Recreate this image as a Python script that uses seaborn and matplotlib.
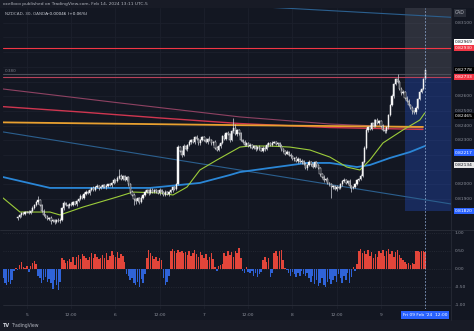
import matplotlib
matplotlib.use("Agg")
import matplotlib.pyplot as plt
from matplotlib.patches import Rectangle
import seaborn as sns
import numpy as np
import pandas as pd

W, H = 474, 331

# ---------------- NZDCAD 30m candles (bar 0 = Mon 5 Feb 00:00) ----------------
first_bar = -5
first_open = 0.81770
closes = [
    0.81778, 0.81790, 0.81805, 0.81800, 0.81812,
    0.81815, 0.81808, 0.81822, 0.81840, 0.81862, 0.81880,
    0.81894, 0.81860, 0.81820, 0.81795,
    0.81780, 0.81765, 0.81772, 0.81750, 0.81760, 0.81745, 0.81755, 0.81748, 0.81760,
    0.81840, 0.81874,
    0.81860, 0.81850, 0.81870, 0.81862, 0.81880, 0.81868, 0.81885,
    0.81900, 0.81920, 0.81910, 0.81935, 0.81950, 0.81940, 0.81962, 0.81975, 0.81965,
    0.81980, 0.81990, 0.81975, 0.81985, 0.81995, 0.81980, 0.81990, 0.82000, 0.81995,
    0.82010, 0.82030, 0.82020, 0.82045, 0.82060, 0.82040, 0.82055, 0.82030, 0.82050,
    0.82000, 0.81950, 0.81930, 0.81900, 0.81885, 0.81905, 0.81880, 0.81910, 0.81930,
    0.81950, 0.81960, 0.81940, 0.81965, 0.81950, 0.81960,
    0.81955, 0.81940, 0.81960, 0.81945, 0.81930, 0.81950, 0.81935, 0.81945, 0.81960, 0.81980, 0.81970,
    0.82000, 0.82254,
    0.82230, 0.82200, 0.82260, 0.82240, 0.82270, 0.82288,
    0.82300, 0.82290, 0.82320, 0.82310, 0.82280, 0.82300, 0.82322, 0.82305, 0.82290, 0.82310, 0.82300, 0.82280, 0.82290,
    0.82250, 0.82234, 0.82260, 0.82280,
    0.82330, 0.82310, 0.82350, 0.82340, 0.82300, 0.82360, 0.82384, 0.82340, 0.82370, 0.82350,
    0.82300, 0.82290, 0.82270, 0.82280, 0.82260,
    0.82270, 0.82250, 0.82260, 0.82240, 0.82255, 0.82245, 0.82230, 0.82250, 0.82240, 0.82265, 0.82280, 0.82270, 0.82285,
    0.82290, 0.82275, 0.82280, 0.82260, 0.82240, 0.82230, 0.82210,
    0.82220, 0.82200, 0.82190, 0.82170, 0.82180, 0.82160, 0.82175, 0.82150, 0.82160, 0.82140, 0.82110, 0.82130, 0.82150,
    0.82140, 0.82120, 0.82150, 0.82130, 0.82110,
    0.82070, 0.82050, 0.82030, 0.82040, 0.82010, 0.82000, 0.81980,
    0.81990, 0.81970, 0.81985, 0.81975, 0.82000,
    0.82020, 0.82030, 0.82010, 0.82025,
    0.81990, 0.81976, 0.81985, 0.82000,
    0.82030, 0.82040, 0.82060,
    0.82150, 0.82250, 0.82370, 0.82390,
    0.82380, 0.82420, 0.82400, 0.82440, 0.82420, 0.82430, 0.82400,
    0.82370, 0.82360, 0.82390,
    0.82470, 0.82540, 0.82600, 0.82680, 0.82720,
    0.82700,
    0.82650, 0.82620, 0.82630, 0.82590, 0.82570, 0.82540, 0.82520,
    0.82500, 0.82490, 0.82520,
    0.82580, 0.82630, 0.82650,
    0.82720, 0.82778,
]

# wick lengths beyond the body, in points (0.00001), ten bars per row from bar -5
hi_wick = [
    8, 12, 6, 10, 9, 7, 14, 5, 11, 8,
    9, 25, 6, 10, 12, 7, 9, 5, 11, 8,
    6, 10, 14, 9, 7, 12, 8, 10, 6, 13,
    9, 7, 11, 8, 12, 6, 10, 9, 14, 7,
    8, 11, 6, 10, 9, 12, 7, 8, 13, 6,
    10, 9, 12, 7, 11, 45, 9, 12, 6, 10,
    8, 7, 12, 9, 6, 11, 8, 10, 7, 9,
    12, 6, 10, 8, 11, 7, 9, 13, 6, 8,
    10, 7, 12, 9, 6, 11, 8, 14, 10, 7,
    12, 9, 6, 11, 8, 10, 7, 13, 9, 6,
    10, 8, 12, 7, 20, 11, 6, 10, 8, 12,
    7, 9, 11, 6, 10, 8, 13, 65, 30, 9,
    10, 8, 7, 12, 9, 6, 11, 8, 10, 7,
    9, 12, 6, 10, 8, 15, 7, 9, 13, 6,
    8, 10, 7, 12, 9, 6, 11, 8, 14, 10,
    7, 12, 9, 6, 11, 8, 10, 7, 13, 9,
    6, 10, 8, 12, 7, 9, 11, 6, 10, 8,
    12, 7, 9, 11, 6, 10, 8, 13, 9, 7,
    10, 8, 7, 12, 9, 6, 11, 8, 10, 15,
    9, 12, 6, 25, 8, 11, 7, 9, 13, 6,
    8, 10, 7, 12, 9, 6, 30, 8, 14, 10,
    7, 12, 9, 6, 11, 8, 10, 7, 13, 9,
    6, 10,
]
lo_wick = [
    9, 7, 11, 8, 10, 6, 12, 9, 7, 10,
    8, 11, 6, 9, 12, 7, 10, 8, 20, 6,
    11, 9, 7, 10, 8, 12, 6, 9, 11, 7,
    10, 8, 12, 6, 9, 11, 7, 10, 8, 12,
    6, 9, 11, 7, 10, 8, 12, 6, 9, 11,
    7, 10, 8, 12, 6, 9, 11, 7, 10, 8,
    12, 6, 9, 40, 20, 7, 10, 8, 12, 6,
    9, 11, 7, 10, 8, 12, 6, 9, 11, 7,
    10, 8, 12, 6, 9, 11, 10, 7, 8, 12,
    6, 9, 11, 7, 10, 8, 12, 6, 9, 11,
    7, 10, 8, 12, 6, 9, 11, 7, 10, 8,
    12, 6, 9, 11, 7, 10, 8, 12, 6, 9,
    11, 7, 10, 8, 12, 6, 9, 11, 7, 10,
    8, 12, 6, 9, 11, 7, 10, 8, 12, 6,
    9, 11, 7, 10, 8, 12, 6, 9, 11, 7,
    10, 8, 12, 6, 9, 11, 7, 10, 8, 12,
    6, 9, 11, 7, 10, 8, 12, 6, 9, 11,
    75, 10, 8, 12, 6, 9, 11, 7, 10, 8,
    12, 30, 9, 11, 7, 10, 8, 12, 6, 9,
    11, 7, 10, 8, 12, 6, 9, 11, 7, 10,
    8, 12, 6, 9, 11, 7, 10, 8, 12, 6,
    9, 11, 7, 10, 20, 8, 12, 6, 9, 11,
    7, 10,
]

# ---------------- momentum histogram (from bar -13) ----------------
hist_first = -13
hist_vals = [
    -0.25, -0.40, -0.45, -0.35, -0.42, -0.30,
    -0.05, 0.02, -0.03, 0.12, 0.20, 0.05, 0.03, 0.08,
    -0.08, 0.10, 0.18, 0.24, 0.15,
    -0.18, -0.25, -0.38, -0.30, -0.22, -0.35, -0.28,
    -0.40, -0.55, -0.30, -0.45, -0.60, -0.35,
    0.30, 0.25, 0.18, 0.22, 0.28, 0.20, 0.33, 0.12,
    0.35, 0.40, 0.28, 0.43, 0.38, 0.30, 0.25, 0.33,
    0.45, 0.30, 0.42, 0.35, 0.28,
    0.32, 0.40, 0.30, 0.45, 0.25, 0.38, 0.52,
    0.40, 0.35, 0.48, 0.30, 0.42, 0.38, 0.20,
    -0.13, -0.20, -0.30, -0.25, -0.38, -0.45, -0.35, -0.50, -0.28,
    -0.40, -0.15,
    0.30, 0.55, 0.45, 0.38,
    0.28, 0.35, 0.22, 0.30, 0.25,
    -0.25, -0.45, -0.35, -0.20,
    0.50, 0.56, 0.52, 0.45, 0.55, 0.48, 0.50, 0.44, 0.47,
    0.40, 0.52, 0.38, 0.45, 0.55, 0.42, 0.35, 0.48, 0.40,
    0.30, 0.42, 0.25, 0.35, 0.45, 0.28,
    0.05, -0.05, 0.08, 0.12, 0.15,
    0.45, 0.38, 0.50, 0.40, 0.48, 0.35, 0.52, 0.45, 0.60, 0.30,
    -0.05, -0.10, 0.05, -0.08,
    -0.12, -0.05, -0.18, -0.10, -0.22, -0.15, -0.08,
    0.25, 0.33, 0.20, 0.30,
    -0.22, -0.12,
    0.45, 0.52, 0.38, 0.50, 0.55, 0.25,
    0.02, -0.03,
    -0.12, -0.20, -0.08, -0.15, -0.22, -0.10, -0.18, -0.05, -0.14, -0.20, -0.10,
    -0.25, -0.35, -0.20, -0.42, -0.30, -0.48, -0.38, -0.25, -0.45, -0.50, -0.35, -0.28, -0.42, -0.30,
    -0.20, -0.35, -0.15, -0.25, -0.40, -0.18, -0.30, -0.12, -0.38, -0.22,
    0.05, -0.06, 0.15,
    0.52, 0.56, 0.45, 0.50, 0.43,
    0.55, 0.38, 0.48, 0.30, 0.42, 0.35, 0.50,
    0.45, 0.55, 0.38, 0.52, 0.56, 0.42, 0.50, 0.35, 0.48, 0.55, 0.40,
    0.32, 0.25, 0.20, 0.15, 0.18, 0.12, 0.16, 0.14,
    0.50, 0.52, 0.48, 0.52, 0.50, 0.47,
]

# ---------------- overlay lines: (bar index, price) knots ----------------
green_ma_x = [-13.0, -3.8, 12.5, 17.9, 30.4, 48.8, 57.5, 72.1, 79.2, 86.8, 93.8, 103.0,
              115.5, 120.9, 131.8, 142.6, 153.5, 164.3, 173.5, 180.6, 186.0, 193.1,
              203.9, 213.1, 215.8]
green_ma_y = [0.81908, 0.81812, 0.81812, 0.81792, 0.81846, 0.81914, 0.81948, 0.81942,
              0.81928, 0.81982, 0.82098, 0.82166, 0.82254, 0.82261, 0.82261, 0.82254,
              0.82234, 0.82186, 0.82118, 0.82098, 0.82166, 0.82282, 0.82370, 0.82438,
              0.82486]
blue_ma_x = [-13.0, 12.5, 66.7, 93.8, 110.1, 115.5, 131.8, 151.8, 164.3, 179.0, 186.0,
             196.9, 207.7, 215.8]
blue_ma_y = [0.82050, 0.81976, 0.81976, 0.82010, 0.82064, 0.82084, 0.82112, 0.82146,
             0.82146, 0.82118, 0.82132, 0.82180, 0.82220, 0.82261]
red_ma_x = [-13.0, 28.7, 72.1, 115.5, 164.3, 214.8]
red_ma_y = [0.82529, 0.82493, 0.82452, 0.82414, 0.82387, 0.82374]
orange_ma_x = [-13.0, 115.5, 214.8]
orange_ma_y = [0.82422, 0.82403, 0.82391]
pink_ma_x = [-13.0, 50.4, 115.5, 164.3, 214.8]
pink_ma_y = [0.82649, 0.82554, 0.82459, 0.82411, 0.82384]
trend_low_x = [-13.0, 230.0]
trend_low_y = [0.82357, 0.81867]
trend_high_x = [130.0, 230.0]
trend_high_y = [0.83206, 0.83137]

h_levels = [0.82930, 0.82753, 0.82733]
h_colors = ["#f23645", "#4a4e59", "#b8415a"]

# position tool zone (price bounds)
zone_x = [205.0, 230.0]
zone_top = 0.82733
zone_bottom = 0.81820

price_ticks = [0.83100, 0.83000, 0.82900, 0.82800, 0.82700, 0.82600, 0.82500,
               0.82400, 0.82300, 0.82200, 0.82100, 0.82000, 0.81900]
price_tags = [(0.82969, "#ffffff", "#131722"), (0.82930, "#f23645", "#ffffff"),
              (0.82778, "#000000", "#ffffff"), (0.82733, "#f23645", "#ffffff"),
              (0.82465, "#000000", "#ffffff"), (0.82217, "#2962ff", "#ffffff"),
              (0.82134, "#e6e6e6", "#131722"), (0.81820, "#2962ff", "#ffffff")]
osc_ticks = [1.0, 0.5, 0.0, -0.5, -1.0]
day_ticks = [0, 24, 48, 72, 96, 120, 144, 168, 192]
day_labels = ["5", "12:00", "6", "12:00", "7", "12:00", "8", "12:00", "9"]
cursor_bar = 216
cursor_label = "Fri 09 Feb '24  12:00"

# ---------------- style ----------------
BG = "#131722"
FRAME = "#181b26"
GRID = "#1c202c"
TXT = "#b2b5be"
AX_TXT = "#8a8e99"

sns.set_theme(style="dark")
plt.rcParams["font.family"] = ["DejaVu Sans"]

fig = plt.figure(figsize=(W / 100, H / 100), dpi=100, facecolor=FRAME)


def fx(px):
    return px / W


def fy(py):
    return 1 - py / H


# chart area background incl. scales
fig.add_artist(Rectangle((0, fy(320)), 1, fy(8) - fy(320), transform=fig.transFigure,
                         facecolor=BG, edgecolor="none", zorder=0))

ax = fig.add_axes([fx(3), fy(229), fx(451) - fx(3), fy(8) - fy(229)])
axo = fig.add_axes([fx(3), fy(309), fx(451) - fx(3), fy(231) - fy(309)])
for a in (ax, axo):
    a.set_facecolor(BG)
    for s in a.spines.values():
        s.set_visible(False)
    a.set_xticks([])
    a.set_yticks([])
    a.set_xlim(-13.0, 230.0)
    for t in day_ticks:
        a.axvline(t, color=GRID, lw=0.6, zorder=0)

ax.set_ylim(0.816966, 0.832000)
axo.set_ylim(-1.12, 1.07)
for p in price_ticks:
    ax.axhline(p, color=GRID, lw=0.6, zorder=0)

# zones on the right
ax.fill_between(zone_x, zone_top, 0.8325, color="#6a6d78", alpha=0.30, lw=0, zorder=1)
ax.fill_between(zone_x, zone_bottom, zone_top, color="#2962ff", alpha=0.26, lw=0, zorder=1)

# horizontal levels
for lv, c in zip(h_levels, h_colors):
    ax.axhline(lv, color=c, lw=0.8, zorder=2)

# trend lines and moving averages
lines = [
    (trend_high_x, trend_high_y, "#2b5f8e", 0.8),
    (trend_low_x, trend_low_y, "#2b5f8e", 0.8),
    (pink_ma_x, pink_ma_y, "#8e4262", 0.8),
    (red_ma_x, red_ma_y, "#cf3650", 1.0),
    (orange_ma_x, orange_ma_y, "#e8a030", 1.3),
    (blue_ma_x, blue_ma_y, "#2a86d6", 1.3),
    (green_ma_x, green_ma_y, "#9ccc3a", 0.8),
]
for lx, ly, c, lw in lines:
    sns.lineplot(x=lx, y=ly, ax=ax, color=c, lw=lw, zorder=3, legend=False)

# candles
df = pd.DataFrame({"close": closes})
df["bar"] = np.arange(first_bar, first_bar + len(df))
df["open"] = [first_open] + closes[:-1]
df["top"] = df[["open", "close"]].max(axis=1)
df["bot"] = df[["open", "close"]].min(axis=1)
df["high"] = df["top"] + np.array(hi_wick) * 1e-5
df["low"] = df["bot"] - np.array(lo_wick) * 1e-5
up = df["close"] >= df["open"]
ax.vlines(df["bar"], df["low"], df["high"], color="#d1d4dc", lw=0.5, zorder=4)
ax.bar(df["bar"], np.maximum(df["top"] - df["bot"], 0.000012), bottom=df["bot"], width=0.7,
       color=np.where(up, "#ffffff", "#131722"), edgecolor="#e8e8e8", linewidth=0.35, zorder=5)

ax.text(0.004, 0.82760, "0.380", color="#787b86", fontsize=3.0, va="bottom",
        transform=ax.get_yaxis_transform())

# oscillator
hx = np.arange(hist_first, hist_first + len(hist_vals))
hv = np.array(hist_vals)
axo.bar(hx, hv, width=0.8, color=np.where(hv >= 0, "#e2453a", "#2f63d8"), lw=0, zorder=3)
for v, st in zip(osc_ticks, [":", ":", ":", ":", "-"]):
    axo.axhline(v, color="#2a2e39", lw=0.6, ls=st, zorder=1)

# cursor
for a in (ax, axo):
    a.axvline(cursor_bar, color="#8aa4cc", lw=0.6, ls=(0, (2, 2)), zorder=6)

# pane separator and scale border
fig.add_artist(plt.Line2D([0, 1], [fy(230), fy(230)], transform=fig.transFigure,
                          color="#2a2e39", lw=0.6))
fig.add_artist(plt.Line2D([fx(451), fx(451)], [fy(8), fy(320)], transform=fig.transFigure,
                          color="#2a2e39", lw=0.5))

# price scale
ylo, yhi = ax.get_ylim()


def price_py(p):
    return 8 + (yhi - p) / (yhi - ylo) * (229 - 8)


tag_rows = [price_py(p) for p, _, _ in price_tags]
for p in price_ticks:
    py = price_py(p)
    if min(abs(py - r) for r in tag_rows) < 5.0:
        continue
    fig.text(fx(455), fy(py), f"{p:.5f}", color=AX_TXT, fontsize=3.2, va="center", ha="left")
for p, bg, fg in price_tags:
    fig.text(fx(455), fy(price_py(p)), f"{p:.5f}", color=fg, fontsize=3.2, va="center",
             ha="left", bbox=dict(boxstyle="square,pad=0.25", fc=bg, ec="none"))
fig.text(fx(455), fy(13), "CAD", color=TXT, fontsize=3.3, va="center", ha="left",
         bbox=dict(boxstyle="square,pad=0.3", fc="#2a2e39", ec="none"))

olo, ohi = axo.get_ylim()
for v in osc_ticks:
    py = 231 + (ohi - v) / (ohi - olo) * (309 - 231)
    fig.text(fx(455), fy(py), f"{v:.2f}", color=AX_TXT, fontsize=3.2, va="center", ha="left")

# time scale
for t, lab in zip(day_ticks, day_labels):
    px = 3 + (t + 13.0) / (230.0 + 13.0) * (451 - 3)
    fig.text(fx(px), fy(315), lab, color=AX_TXT, fontsize=3.2, ha="center", va="center")
cpx = 3 + (cursor_bar + 13.0) / 243.0 * 448
fig.text(fx(cpx), fy(315), cursor_label, color="#ffffff", fontsize=3.2, ha="center",
         va="center", bbox=dict(boxstyle="square,pad=0.35", fc="#2962ff", ec="none"))

# header and footer
fig.text(fx(3), fy(4.5), "ocelloco published on TradingView.com, Feb 14, 2024 13:11 UTC-5",
         color=TXT, fontsize=3.2, va="center", ha="left")
fig.text(fx(5), fy(14), "NZDCAD, 30, OANDA", color=TXT, fontsize=3.0, va="center", ha="left")
fig.text(fx(46), fy(14), "+0.00046 (+0.06%)", color="#e0e3eb", fontsize=3.0, va="center",
         ha="left")
fig.text(fx(3), fy(325.5), "TV", color="#d1d4dc", fontsize=3.5, fontweight="bold",
         va="center", ha="left")
fig.text(fx(11), fy(325.5), "TradingView", color=TXT, fontsize=3.3, va="center", ha="left")

fig.savefig("out.png", dpi=100, facecolor=FRAME)
